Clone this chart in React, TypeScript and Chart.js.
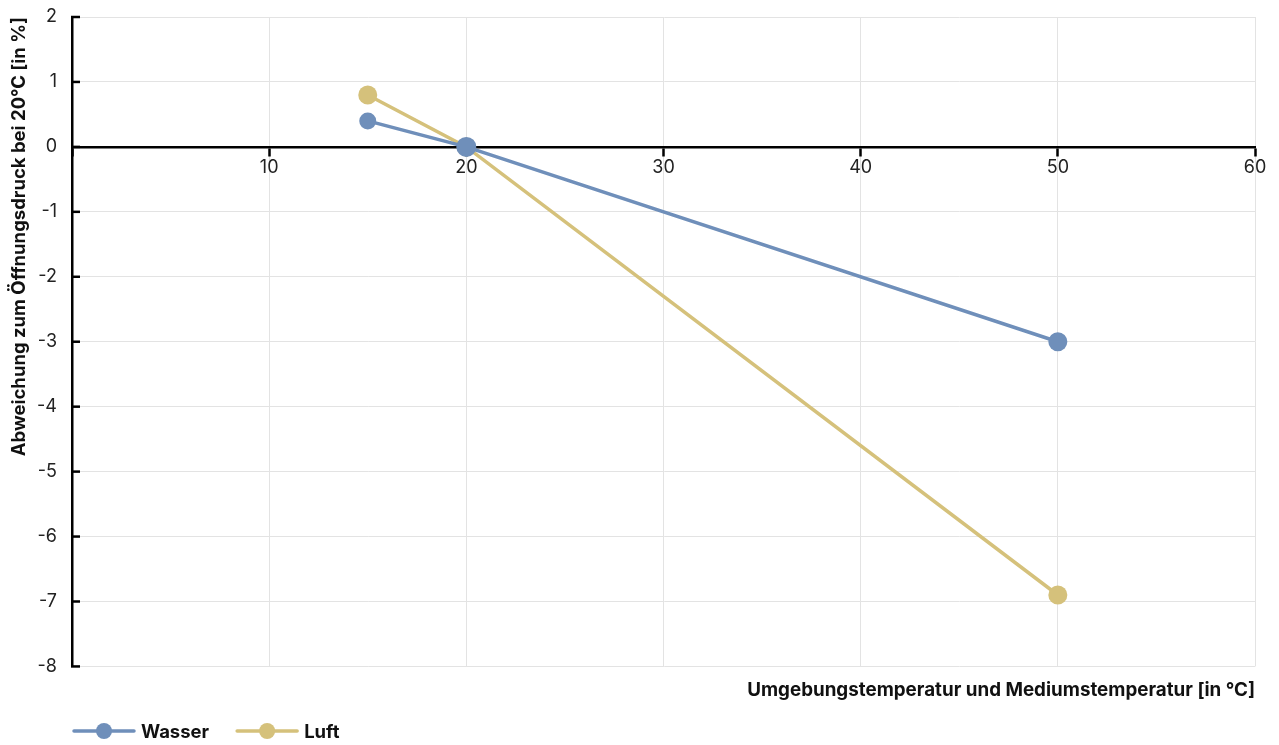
import React, { useEffect, useRef } from "react";
import { Chart, registerables } from "chart.js";

Chart.register(...registerables);

const seriesNames = ["Wasser", "Luft"];
const seriesColors = ["#6f8fba", "#d5c17b"];
const wasserX = [15, 20, 50];
const wasserY = [0.4, 0, -3];
const luftX = [15, 20, 50];
const luftY = [0.8, 0, -6.9];
const wasserRadius = [8.5, 10, 9.5];
const luftRadius = [9.5, 9.5, 9.5];
const xTitle = "Umgebungstemperatur und Mediumstemperatur [in °C]";
const yTitle = "Abweichung zum Öffnungsdruck bei 20°C [in %]";
const FONT = "Inter, 'Noto Sans', sans-serif";

const innerYTicks = {
  id: "innerYTicks",
  afterDraw(chart: any) {
    const ctx = chart.ctx;
    const y = chart.scales.y;
    const left = chart.chartArea.left;
    ctx.save();
    ctx.strokeStyle = "#000";
    ctx.lineWidth = 2.5;
    y.ticks.forEach((t: any) => {
      const py = y.getPixelForValue(t.value);
      ctx.beginPath();
      ctx.moveTo(left - 1, py);
      ctx.lineTo(left + 8, py);
      ctx.stroke();
    });
    ctx.restore();
  },
};

const customLegend = {
  id: "customLegend",
  afterDraw(chart: any) {
    const ctx = chart.ctx;
    const cy = chart.height - 14;
    let x = 72;
    ctx.save();
    ctx.font = `bold 18.5px ${FONT}`;
    ctx.textBaseline = "middle";
    chart.data.datasets.forEach((ds: any) => {
      ctx.strokeStyle = ds.borderColor;
      ctx.lineWidth = 3.5;
      ctx.lineCap = "round";
      ctx.beginPath();
      ctx.moveTo(x + 2, cy);
      ctx.lineTo(x + 62, cy);
      ctx.stroke();
      ctx.fillStyle = ds.backgroundColor;
      ctx.beginPath();
      ctx.arc(x + 32, cy, 8, 0, Math.PI * 2);
      ctx.fill();
      ctx.fillStyle = "#111";
      ctx.textAlign = "left";
      const tx = x + 69;
      ctx.fillText(ds.label, tx, cy + 1);
      x = tx + ctx.measureText(ds.label).width + 26;
    });
    ctx.restore();
  },
};

function App() {
  const ref = useRef<HTMLCanvasElement | null>(null);
  useEffect(() => {
    document.body.style.margin = "0";
    const mk = (xs: number[], ys: number[]) => xs.map((v, i) => ({ x: v, y: ys[i] }));
    const chart = new Chart(ref.current as HTMLCanvasElement, {
      type: "line",
      data: {
        datasets: [
          {
            label: seriesNames[0],
            data: mk(wasserX, wasserY),
            borderColor: seriesColors[0],
            backgroundColor: seriesColors[0],
            pointBackgroundColor: seriesColors[0],
            pointBorderWidth: 0,
            pointRadius: wasserRadius,
            borderWidth: 3.5,
            tension: 0,
          },
          {
            label: seriesNames[1],
            data: mk(luftX, luftY),
            borderColor: seriesColors[1],
            backgroundColor: seriesColors[1],
            pointBackgroundColor: seriesColors[1],
            pointBorderWidth: 0,
            pointRadius: luftRadius,
            borderWidth: 3.5,
            tension: 0,
          },
        ],
      },
      options: {
        animation: false,
        responsive: false,
        maintainAspectRatio: false,
        layout: { padding: { left: 5, right: 24, top: 17, bottom: 40 } },
        font: { family: FONT, size: 18 },
        color: "#222",
        scales: {
          x: {
            type: "linear",
            position: { y: 0 } as any,
            min: 0,
            max: 60,
            ticks: {
              stepSize: 10,
              color: "#222",
              font: { family: FONT, size: 18 },
              padding: 2,
              maxRotation: 0,
              callback: (v: any) => (v === 0 ? "" : String(v)),
            },
            grid: {
              color: "#e3e3e3",
              lineWidth: 1,
              tickColor: "#000",
              tickLength: 8,
              tickWidth: 2.5,
            },
            border: { display: true, color: "#000", width: 2.5 },
          },
          y: {
            type: "linear",
            min: -8,
            max: 2,
            ticks: {
              stepSize: 1,
              color: "#222",
              font: { family: FONT, size: 18 },
              padding: 15,
            },
            grid: { color: "#e3e3e3", lineWidth: 1, drawTicks: false },
            border: { display: true, color: "#000", width: 2.5 },
            title: {
              display: true,
              text: yTitle,
              align: "end",
              color: "#111",
              font: { family: FONT, size: 18.5, weight: "bold" },
              padding: { top: 3, bottom: 4 },
            },
            afterFit: (scale: any) => {
              scale.width = 67;
              scale.paddingTop = 0;
              scale.paddingBottom = 0;
            },
          },
        },
        plugins: {
          legend: { display: false },
          tooltip: { enabled: false },
          title: {
            display: true,
            text: xTitle,
            position: "bottom",
            align: "end",
            color: "#111",
            font: { family: FONT, size: 18.8, weight: "bold" },
            padding: { top: 13, bottom: 3 },
          },
        },
      },
      plugins: [innerYTicks, customLegend],
    });
    return () => chart.destroy();
  }, []);
  return (
    <div style={{ width: 1279, height: 745 }}>
      <canvas ref={ref} width={1279} height={745} style={{ display: "block" }} />
    </div>
  );
}

export default App;
